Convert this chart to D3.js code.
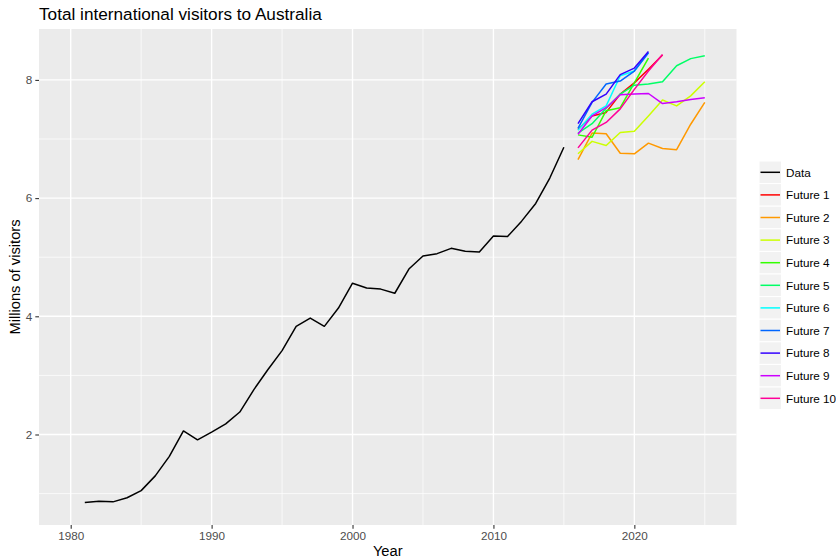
<!DOCTYPE html>
<html>
<head>
<meta charset="utf-8">
<script src="https://cdn.jsdelivr.net/npm/d3@7"></script>
<style>
  html, body { margin: 0; padding: 0; background: #ffffff; }
  svg { display: block; font-family: "Liberation Sans", Arial, Helvetica, sans-serif; }
</style>
</head>
<body>
<svg id="chart" width="836" height="559"></svg>
<script>
// Observed annual visitor numbers (millions)
const years = [1981, 1982, 1983, 1984, 1985, 1986, 1987, 1988, 1989, 1990,
               1991, 1992, 1993, 1994, 1995, 1996, 1997, 1998, 1999, 2000,
               2001, 2002, 2003, 2004, 2005, 2006, 2007, 2008, 2009, 2010,
               2011, 2012, 2013, 2014, 2015];
const visitors = [0.85, 0.87, 0.86, 0.93, 1.05, 1.30, 1.63, 2.06, 1.91, 2.04,
                  2.18, 2.38, 2.76, 3.10, 3.42, 3.83, 3.97, 3.83, 4.14, 4.56,
                  4.48, 4.46, 4.39, 4.80, 5.02, 5.06, 5.15, 5.10, 5.09, 5.36,
                  5.35, 5.61, 5.91, 6.34, 6.86];

// Simulated future paths, each starting in 2016
const futureStart = 2016;
const future1  = [7.16, 7.39, 7.45, 7.76, 7.95, 8.18, 8.42];
const future2  = [6.65, 7.10, 7.09, 6.76, 6.75, 6.93, 6.84, 6.82, 7.25, 7.62];
const future3  = [6.75, 6.96, 6.89, 7.11, 7.13, 7.39, 7.66, 7.56, 7.73, 7.97];
const future4  = [7.07, 7.03, 7.48, 7.53, 7.95, 8.37];
const future5  = [7.10, 7.26, 7.52, 7.76, 7.91, 7.93, 7.97, 8.24, 8.36, 8.41];
const future6  = [7.15, 7.42, 7.56, 8.07, 8.15, 8.46];
const future7  = [7.18, 7.62, 7.93, 7.98, 8.15, 8.46];
const future8  = [7.26, 7.63, 7.76, 8.09, 8.20, 8.48];
const future9  = [7.08, 7.39, 7.53, 7.75, 7.76, 7.77, 7.60, 7.63, 7.67, 7.70];
const future10 = [6.85, 7.15, 7.28, 7.51, 7.84, 8.15, 8.43];

const seriesNames = ["Data", "Future 1", "Future 2", "Future 3", "Future 4", "Future 5",
                     "Future 6", "Future 7", "Future 8", "Future 9", "Future 10"];
const seriesColors = ["#000000", "#FF0000", "#FF9900", "#CCFF00", "#33FF00", "#00FF66",
                      "#00FFFF", "#0066FF", "#3300FF", "#CC00FF", "#FF0099"];

const xTicks = [1980, 1990, 2000, 2010, 2020];
const xMinor = [1985, 1995, 2005, 2015, 2025];
const yTicks = [2, 4, 6, 8];
const yMinor = [1, 3, 5, 7];

// Assemble series as {year, value} points
const futures = [future1, future2, future3, future4, future5,
                 future6, future7, future8, future9, future10];
const series = [{ name: seriesNames[0], color: seriesColors[0],
                  points: years.map((yr, i) => ({ year: yr, value: visitors[i] })) }];
futures.forEach((vals, k) => {
  series.push({ name: seriesNames[k + 1], color: seriesColors[k + 1],
                points: vals.map((v, i) => ({ year: futureStart + i, value: v })) });
});

const svg = d3.select("#chart");
const panel = { left: 39, right: 736.5, top: 29, bottom: 525 };

// Scales with a 5% expansion on both sides
const xLo = 1980, xHi = 2025;
const xPad = (xHi - xLo) * 0.05;
const x = d3.scaleLinear().domain([xLo - xPad, xHi + xPad]).range([panel.left, panel.right]);

const allVals = series.flatMap(s => s.points.map(p => p.value));
const yLo = d3.min(allVals), yHi = d3.max(allVals);
const yPad = (yHi - yLo) * 0.05;
const y = d3.scaleLinear().domain([yLo - yPad, yHi + yPad]).range([panel.bottom, panel.top]);

// Panel background
svg.append("rect")
  .attr("x", panel.left).attr("y", panel.top)
  .attr("width", panel.right - panel.left).attr("height", panel.bottom - panel.top)
  .attr("fill", "#EBEBEB");

const grid = svg.append("g");
// Minor grid
grid.selectAll(".xmin").data(xMinor).join("line")
  .attr("x1", d => x(d)).attr("x2", d => x(d))
  .attr("y1", panel.top).attr("y2", panel.bottom)
  .attr("stroke", "#ffffff").attr("stroke-width", 0.7);
grid.selectAll(".ymin").data(yMinor).join("line")
  .attr("class", "ymin")
  .attr("x1", panel.left).attr("x2", panel.right)
  .attr("y1", d => y(d)).attr("y2", d => y(d))
  .attr("stroke", "#ffffff").attr("stroke-width", 0.7);
// Major grid
grid.selectAll(".xmaj").data(xTicks).join("line")
  .attr("class", "xmaj")
  .attr("x1", d => x(d)).attr("x2", d => x(d))
  .attr("y1", panel.top).attr("y2", panel.bottom)
  .attr("stroke", "#ffffff").attr("stroke-width", 1.4);
grid.selectAll(".ymaj").data(yTicks).join("line")
  .attr("class", "ymaj")
  .attr("x1", panel.left).attr("x2", panel.right)
  .attr("y1", d => y(d)).attr("y2", d => y(d))
  .attr("stroke", "#ffffff").attr("stroke-width", 1.4);

// Axes
const xAxis = svg.append("g")
  .attr("transform", `translate(0,${panel.bottom})`)
  .call(d3.axisBottom(x).tickValues(xTicks).tickFormat(d3.format("d")).tickSize(3.7).tickPadding(3));
const yAxis = svg.append("g")
  .attr("transform", `translate(${panel.left},0)`)
  .call(d3.axisLeft(y).tickValues(yTicks).tickFormat(d3.format("d")).tickSize(3.7).tickPadding(3));
[xAxis, yAxis].forEach(a => {
  a.select(".domain").remove();
  a.selectAll(".tick line").attr("stroke", "#333333").attr("stroke-width", 1.1);
  a.selectAll(".tick text").attr("fill", "#4D4D4D")
    .style("font-size", "11.7px").style("font-family", "'Liberation Sans', Arial, sans-serif");
});

// Lines
const line = d3.line().x(d => x(d.year)).y(d => y(d.value));
svg.append("g").selectAll("path").data(series).join("path")
  .attr("d", d => line(d.points))
  .attr("fill", "none")
  .attr("stroke", d => d.color)
  .attr("stroke-width", 1.5)
  .attr("stroke-linejoin", "round");

// Title and axis titles
svg.append("text")
  .attr("x", panel.left).attr("y", 20)
  .attr("fill", "#000").style("font-size", "17.2px")
  .text("Total international visitors to Australia");
svg.append("text")
  .attr("x", (panel.left + panel.right) / 2).attr("y", 556)
  .attr("text-anchor", "middle").attr("fill", "#000").style("font-size", "14.7px")
  .text("Year");
svg.append("text")
  .attr("transform", `translate(20,${(panel.top + panel.bottom) / 2}) rotate(-90)`)
  .attr("text-anchor", "middle").attr("fill", "#000").style("font-size", "14.7px")
  .text("Millions of visitors");

// Legend
const keyH = 22.6, keyW = 22.5, legX = 759, legY = 161;
const legend = svg.append("g").selectAll("g").data(series).join("g")
  .attr("transform", (d, i) => `translate(${legX},${legY + i * keyH})`);
legend.append("rect")
  .attr("width", keyW).attr("height", keyH)
  .attr("fill", "#F2F2F2").attr("stroke", "#ffffff").attr("stroke-width", 1);
legend.append("line")
  .attr("x1", 1.5).attr("x2", keyW - 1.5)
  .attr("y1", keyH / 2).attr("y2", keyH / 2)
  .attr("stroke", d => d.color).attr("stroke-width", 1.5);
legend.append("text")
  .attr("x", keyW + 4.5).attr("y", keyH / 2).attr("dy", "0.36em")
  .attr("fill", "#000").style("font-size", "11.7px")
  .text(d => d.name);
</script>
</body>
</html>
